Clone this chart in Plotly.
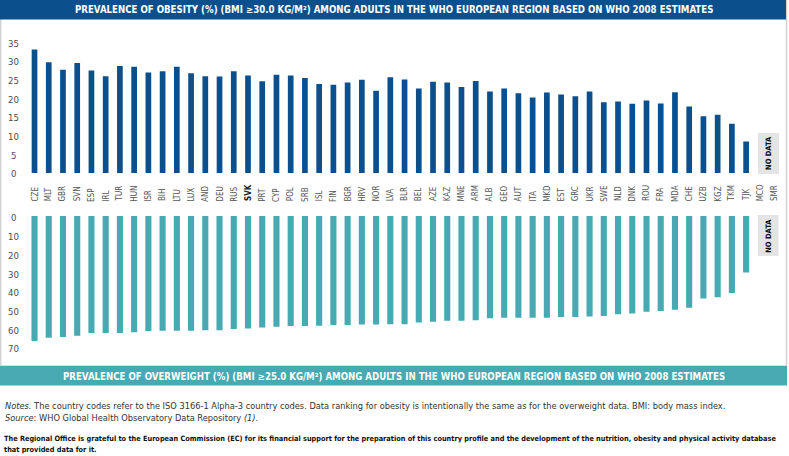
import plotly.graph_objects as go

countries = ["CZE","MLT","GBR","SVN","ESP","IRL","TUR","HUN","ISR","BIH","LTU","LUX","AND","DEU","RUS","SVK","PRT","CYP","POL","SRB","ISL","FIN","BGR","HRV","NOR","LVA","BLR","BEL","AZE","KAZ","MNE","ARM","ALB","GEO","AUT","ITA","MKD","EST","GRC","UKR","SWE","NLD","DNK","ROU","FRA","MDA","CHE","UZB","KGZ","TKM","TJK","MCO","SMR"]
highlight = "SVK"

obesity = [33.0,29.6,27.6,29.4,27.4,25.9,28.6,28.4,26.9,27.2,28.4,26.7,25.9,25.8,27.2,26.1,24.5,26.3,26.1,25.4,
           23.8,23.6,24.2,24.9,22.0,25.6,25.0,22.6,24.4,24.2,23.0,24.6,21.8,22.6,21.3,20.2,21.5,21.0,20.5,21.8,
           18.9,19.1,18.5,19.4,18.6,21.6,17.8,15.2,15.6,13.2,8.4,None,None]
overweight = [66.8,65.1,64.7,64.0,62.6,62.6,62.6,62.2,61.5,61.3,61.3,61.3,61.1,61.1,60.4,60.1,59.6,59.2,58.8,58.8,
              58.7,58.3,58.3,58.0,58.0,57.9,57.9,56.9,56.5,56.0,56.0,55.8,54.7,54.4,54.4,54.4,54.4,54.0,54.0,53.7,
              53.5,52.6,52.1,51.2,50.8,50.1,49.0,44.1,43.5,41.2,30.2,None,None]
obesity_ticks = [0, 5, 10, 15, 20, 25, 30, 35]
overweight_ticks = [0, 10, 20, 30, 40, 50, 60, 70]

title_top = "PREVALENCE OF OBESITY (%) (BMI ≥30.0 KG/M²) AMONG ADULTS IN THE WHO EUROPEAN REGION BASED ON WHO 2008 ESTIMATES"
title_bottom = "PREVALENCE OF OVERWEIGHT (%) (BMI ≥25.0 KG/M²) AMONG ADULTS IN THE WHO EUROPEAN REGION BASED ON WHO 2008 ESTIMATES"
notes1 = "<i>Notes.</i> The country codes refer to the ISO 3166-1 Alpha-3 country codes. Data ranking for obesity is intentionally the same as for the overweight data. BMI: body mass index."
notes2 = "<i>Source</i>: WHO Global Health Observatory Data Repository <i>(1)</i>."
ack1 = "<b>The Regional Office is grateful to the European Commission (EC) for its financial support for the preparation of this country profile and the development of the nutrition, obesity and physical activity database</b>"
ack2 = "<b>that provided data for it.</b>"

W, H = 789, 456
BLUE = "#0b4f8d"
TEAL = "#47a9b1"
FONT = "DejaVu Sans Condensed, Liberation Sans Narrow, Arial Narrow, sans-serif"

def py(p):
    return 1 - p / H

def px(p):
    return p / W

fig = go.Figure()
fig.add_trace(go.Bar(x=countries, y=obesity, marker=dict(color=BLUE, line=dict(width=0)),
                     xaxis="x", yaxis="y", width=0.4, showlegend=False))
fig.add_trace(go.Bar(x=countries, y=overweight, marker=dict(color=TEAL, line=dict(width=0)),
                     xaxis="x2", yaxis="y2", width=0.43, showlegend=False))

xdom = [px(27.4), px(781.7)]
common_x = dict(type="category", categoryorder="array", categoryarray=countries,
                range=[-0.5, len(countries) - 0.5], showticklabels=False, showgrid=False,
                zeroline=False, showline=False, ticks="", domain=xdom, fixedrange=True)

fig.update_layout(
    width=W, height=H,
    margin=dict(l=0, r=0, t=0, b=0),
    paper_bgcolor="white", plot_bgcolor="white",
    font=dict(family=FONT, color="#555555"),
    bargap=0.6,
    xaxis=dict(**common_x, anchor="y"),
    xaxis2=dict(**common_x, anchor="y2"),
    yaxis=dict(range=[0, 36], domain=[py(173), py(173 - 36 * 3.74)], showticklabels=False,
               showgrid=False, zeroline=False, showline=False, anchor="x"),
    yaxis2=dict(range=[72, 0], domain=[py(216 + 72 * 1.87), py(216)], showticklabels=False,
                showgrid=False, zeroline=False, showline=False, anchor="x2"),
)

shapes = []
# frame
shapes.append(dict(type="rect", xref="paper", yref="paper", x0=px(0.7), x1=px(786.5), y0=py(366), y1=py(0),
                   line=dict(color="#d2d2d2", width=1.5), fillcolor="rgba(0,0,0,0)", layer="below"))
# headers
shapes.append(dict(type="rect", xref="paper", yref="paper", x0=0, x1=px(786), y0=py(19.5), y1=py(0),
                   fillcolor=BLUE, line=dict(width=0)))
shapes.append(dict(type="rect", xref="paper", yref="paper", x0=0, x1=px(787), y0=py(385.5), y1=py(366),
                   fillcolor=TEAL, line=dict(width=0)))
# no-data boxes
shapes.append(dict(type="rect", xref="paper", yref="paper", x0=px(758), x1=px(779), y0=py(174), y1=py(133),
                   fillcolor="#e4e4e4", line=dict(width=0)))
shapes.append(dict(type="rect", xref="paper", yref="paper", x0=px(758), x1=px(778.5), y0=py(256), y1=py(215),
                   fillcolor="#e4e4e4", line=dict(width=0)))

ann = []
ann.append(dict(text="<b>" + title_top + "</b>", x=px(394), y=py(10), xref="paper", yref="paper",
                showarrow=False, font=dict(size=9.6, color="white", family=FONT), xanchor="center", yanchor="middle"))
ann.append(dict(text="<b>" + title_bottom + "</b>", x=px(394), y=py(376), xref="paper", yref="paper",
                showarrow=False, font=dict(size=9.6, color="white", family=FONT), xanchor="center", yanchor="middle"))

for t in obesity_ticks:
    ann.append(dict(text=str(t), x=px(13.7), y=t, xref="paper", yref="y", showarrow=False,
                    font=dict(size=9.5, color="#4d4d4d"), xanchor="center", yanchor="middle", yshift=-1))
for t in overweight_ticks:
    ann.append(dict(text=str(t), x=px(13.7), y=t, xref="paper", yref="y2", showarrow=False,
                    font=dict(size=9.5, color="#4d4d4d"), xanchor="center", yanchor="middle", yshift=-2))

for c in countries:
    txt = "<b>" + c + "</b>" if c == highlight else c
    ann.append(dict(text=txt, x=c, y=py(203.5), xref="x", yref="paper", showarrow=False, textangle=-90,
                    font=dict(size=8, color="#222222" if c == highlight else "#555555"),
                    xanchor="center", yanchor="bottom"))

ann.append(dict(text="<b>NO DATA</b>", x=px(768.5), y=py(153.5), xref="paper", yref="paper", showarrow=False,
                textangle=-90, font=dict(size=7.5, color="#111111"),
                xanchor="center", yanchor="middle"))
ann.append(dict(text="<b>NO DATA</b>", x=px(768.3), y=py(235.5), xref="paper", yref="paper", showarrow=False,
                textangle=-90, font=dict(size=7.5, color="#111111"),
                xanchor="center", yanchor="middle"))

ann.append(dict(text=notes1, x=px(3), y=py(405), xref="paper", yref="paper", showarrow=False,
                font=dict(size=9.2, color="#333333"), xanchor="left", yanchor="middle"))
ann.append(dict(text=notes2, x=px(3), y=py(417), xref="paper", yref="paper", showarrow=False,
                font=dict(size=9.2, color="#333333"), xanchor="left", yanchor="middle"))
ann.append(dict(text=ack1, x=px(2), y=py(438), xref="paper", yref="paper", showarrow=False,
                font=dict(size=7.3, color="#111111"), xanchor="left", yanchor="middle"))
ann.append(dict(text=ack2, x=px(2), y=py(449), xref="paper", yref="paper", showarrow=False,
                font=dict(size=7.3, color="#111111"), xanchor="left", yanchor="middle"))

fig.update_layout(shapes=shapes, annotations=ann)
fig.write_html("out.html", config={"displayModeBar": False},
               post_script="document.body.style.margin='0';document.body.style.padding='0';")
